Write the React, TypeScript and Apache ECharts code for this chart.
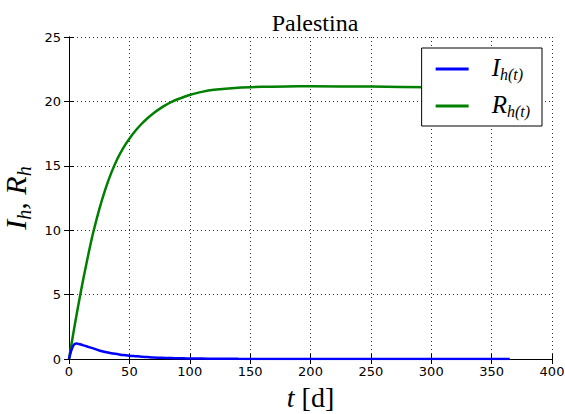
import React, { useEffect, useRef } from "react";
import * as echarts from "echarts";

// Simulated epidemic course for Palestina (days since start)
const days = [0, 2, 4, 6, 8, 10, 12, 15, 18, 20, 25, 30, 35, 40, 45, 50, 55, 60, 65, 70, 75, 80, 85, 90, 95, 100, 110, 120, 140, 160, 180, 200, 250, 300, 365];
const infected = [0, 0.7, 1.1, 1.2, 1.17, 1.12, 1.06, 0.97, 0.88, 0.82, 0.66, 0.54, 0.45, 0.38, 0.31, 0.26, 0.22, 0.18, 0.15, 0.12, 0.1, 0.08, 0.07, 0.06, 0.05, 0.04, 0.03, 0.02, 0.01, 0.006, 0.004, 0.003, 0.001, 0.0, 0.0];
const recovered = [0, 1.12, 2.22, 3.28, 4.32, 5.32, 6.28, 7.66, 8.98, 9.8, 11.6, 13.15, 14.45, 15.53, 16.4, 17.1, 17.72, 18.245, 18.695, 19.085, 19.42, 19.71, 19.955, 20.165, 20.345, 20.5, 20.74, 20.9, 21.06, 21.13, 21.16, 21.17, 21.15, 21.1, 21.05];
const seriesNames = ["I", "R"];

const SERIF = "Liberation Serif";
const SANS = "DejaVu Sans";

export default function App() {
  const ref = useRef<HTMLDivElement>(null);

  useEffect(() => {
    if (!ref.current) return;
    const chart = echarts.init(ref.current, null, { renderer: "svg" });

    const tickStyle = { show: true, inside: true, length: 5, lineStyle: { color: "#000", width: 1 } };
    const lineStyle = { color: "#000", width: 1 };
    const gridLine = { show: true, lineStyle: { color: "#333", width: 1, type: [1, 3] as any } };

    chart.setOption({
      animation: false,
      backgroundColor: "#fff",
      title: {
        text: "Palestina",
        left: 310,
        textAlign: "center",
        top: 6,
        textStyle: { fontFamily: SERIF, fontWeight: "normal", fontSize: 24, color: "#000" },
      },
      grid: { left: 69, right: 13, top: 37, bottom: 55, containLabel: false, outerBoundsMode: "none" },
      legend: {
        orient: "vertical",
        right: 23,
        top: 48,
        backgroundColor: "#fff",
        borderColor: "#000",
        borderWidth: 1,
        borderRadius: 0,
        padding: [7, 12, 7, 14],
        itemGap: 10,
        itemWidth: 33,
        itemHeight: 3,
        icon: "rect",
        data: seriesNames,
        formatter: (name: string) => `{m|${name}}{s|h(t)}`,
        textStyle: {
          padding: [0, 0, 0, 18],
          rich: {
            m: { fontFamily: SERIF, fontStyle: "italic", fontSize: 25, color: "#000", verticalAlign: "top", lineHeight: 28 },
            s: { fontFamily: SERIF, fontStyle: "italic", fontSize: 16, color: "#000", verticalAlign: "top", padding: [11, 0, 0, 0], lineHeight: 28 },
          },
        },
      },
      xAxis: [
        {
          type: "value",
          min: 0,
          max: 400,
          interval: 50,
          name: "{m|t}{r| [d]}",
          nameLocation: "middle",
          nameGap: 24,
          nameTextStyle: {
            rich: {
              m: { fontFamily: SERIF, fontStyle: "italic", fontSize: 28, color: "#000" },
              r: { fontFamily: SERIF, fontSize: 28, color: "#000" },
            },
          },
          axisLine: { show: true, lineStyle },
          axisTick: tickStyle,
          axisLabel: { color: "#000", fontFamily: SANS, fontSize: 13, margin: 6 },
          splitLine: gridLine,
        },
        {
          type: "value",
          position: "top",
          min: 0,
          max: 400,
          interval: 50,
          axisLine: { show: true, lineStyle },
          axisTick: tickStyle,
          axisLabel: { show: false },
          splitLine: { show: false },
        },
      ],
      yAxis: [
        {
          type: "value",
          min: 0,
          max: 25,
          interval: 5,
          name: "{m|I}{s|h}{m|, R}{s|h}",
          nameLocation: "middle",
          nameRotate: 90,
          nameGap: 34,
          nameTextStyle: {
            rich: {
              m: { fontFamily: SERIF, fontStyle: "italic", fontSize: 30, color: "#000", verticalAlign: "top", lineHeight: 34 },
              s: { fontFamily: SERIF, fontStyle: "italic", fontSize: 20, color: "#000", verticalAlign: "top", padding: [13, 0, 0, 0], lineHeight: 34 },
            },
          },
          axisLine: { show: true, lineStyle },
          axisTick: tickStyle,
          axisLabel: { color: "#000", fontFamily: SANS, fontSize: 13, margin: 8 },
          splitLine: gridLine,
        },
        {
          type: "value",
          position: "right",
          min: 0,
          max: 25,
          interval: 5,
          axisLine: { show: true, lineStyle },
          axisTick: tickStyle,
          axisLabel: { show: false },
          splitLine: { show: false },
        },
      ],
      series: [
        {
          name: seriesNames[0],
          type: "line",
          xAxisIndex: 0,
          yAxisIndex: 0,
          showSymbol: false,
          smooth: 0.3,
          z: 3,
          color: "#0000ff",
          lineStyle: { color: "#0000ff", width: 2.5 },
          data: days.map((d, i) => [d, infected[i]]),
        },
        {
          name: seriesNames[1],
          type: "line",
          xAxisIndex: 0,
          yAxisIndex: 0,
          showSymbol: false,
          smooth: 0.3,
          z: 2,
          color: "#008000",
          lineStyle: { color: "#008000", width: 2.5 },
          data: days.map((d, i) => [d, recovered[i]]),
        },
      ],
    });

    return () => chart.dispose();
  }, []);

  return <div ref={ref} style={{ width: 565, height: 414, position: "absolute", left: 0, top: 0 }} />;
}
